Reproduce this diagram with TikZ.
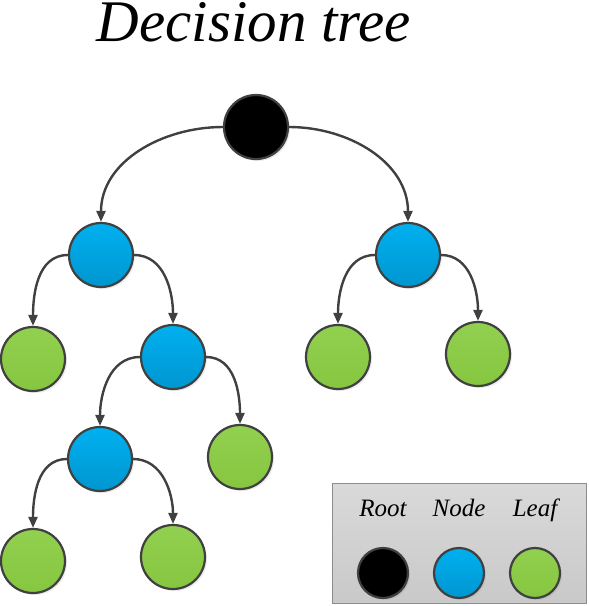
\documentclass[tikz,border=0pt]{standalone}
\usepackage{fontspec}
\setmainfont{Liberation Serif}
\usetikzlibrary{arrows.meta,shadows}
\definecolor{dtline} {HTML}{404040}
\definecolor{dtblue} {HTML}{00B0F0}
\definecolor{dtblue2}{HTML}{0096CF}
\definecolor{dtgreen}{HTML}{92D050}
\definecolor{dtgreen2}{HTML}{86C63F}
\definecolor{dtbox}  {HTML}{D9D9D9}
\definecolor{dtbox2} {HTML}{C9C9C9}
\definecolor{dtrule} {HTML}{8C8C8C}

\begin{document}
\begin{tikzpicture}[x=1pt, y=-1pt,
    every node/.style={inner sep=0pt},
    circ/.style={circle, draw=dtline, line width=2.2pt, minimum size=64pt,
      drop shadow={opacity=0.15, shadow xshift=2pt, shadow yshift=-2pt}},
    rootnode/.style={circ, fill=black},
    inner/.style={circ, top color=dtblue, bottom color=dtblue2},
    leaf/.style={circ, top color=dtgreen, bottom color=dtgreen2},
    small/.style={minimum size=50pt},
    arr/.style={draw=dtline, line width=2.4pt, -{Triangle[length=11pt,width=9pt]}}]
  \useasboundingbox (0,0) rectangle (589,606);
  \node[font=\fontsize{59}{59}\selectfont\itshape, anchor=base] (title) at (254,41.5) {Decision tree};
  % tree
  \node[rootnode] (root) at (256,127) {};
  \node[inner] (n1) at (101,255) {};
  \node[inner] (n2) at (408,255) {};
  \node[leaf]  (l1) at (33,359) {};
  \node[inner] (n3) at (173,357) {};
  \node[leaf]  (l2) at (338,357) {};
  \node[leaf]  (l3) at (478,354) {};
  \node[inner] (n4) at (100,459) {};
  \node[leaf]  (l4) at (240,457) {};
  \node[leaf]  (l5) at (33,561) {};
  \node[leaf]  (l6) at (173,557) {};
  \draw[arr] (root.west) to[out=180, in=90] (n1.north);
  \draw[arr] (root.east) to[out=0, in=90] (n2.north);
  \draw[arr] (n1.west) to[out=180, in=90] (l1.north);
  \draw[arr] (n1.east) to[out=0, in=90] (n3.north);
  \draw[arr] (n2.west) to[out=180, in=90] (l2.north);
  \draw[arr] (n2.east) to[out=0, in=90] (l3.north);
  \draw[arr] (n3.west) to[out=180, in=90] (n4.north);
  \draw[arr] (n3.east) to[out=0, in=90] (l4.north);
  \draw[arr] (n4.west) to[out=180, in=90] (l5.north);
  \draw[arr] (n4.east) to[out=0, in=90] (l6.north);
  % legend
  \node[draw=dtrule, line width=1pt, top color=dtbox, bottom color=dtbox2,
    minimum width=254pt, minimum height=120pt] (legend) at (459.5,543.5) {};
  \node[rootnode, small] (kroot) at (383,573) {};
  \node[inner, small] (knode) at (459,573) {};
  \node[leaf, small] (kleaf) at (535,573) {};
  \foreach \k/\t in {kroot/Root, knode/Node, kleaf/Leaf}
    \node[font=\fontsize{25}{25}\selectfont\itshape, anchor=base] at ([yshift=57pt]\k.center) {\t};
\end{tikzpicture}
\end{document}
